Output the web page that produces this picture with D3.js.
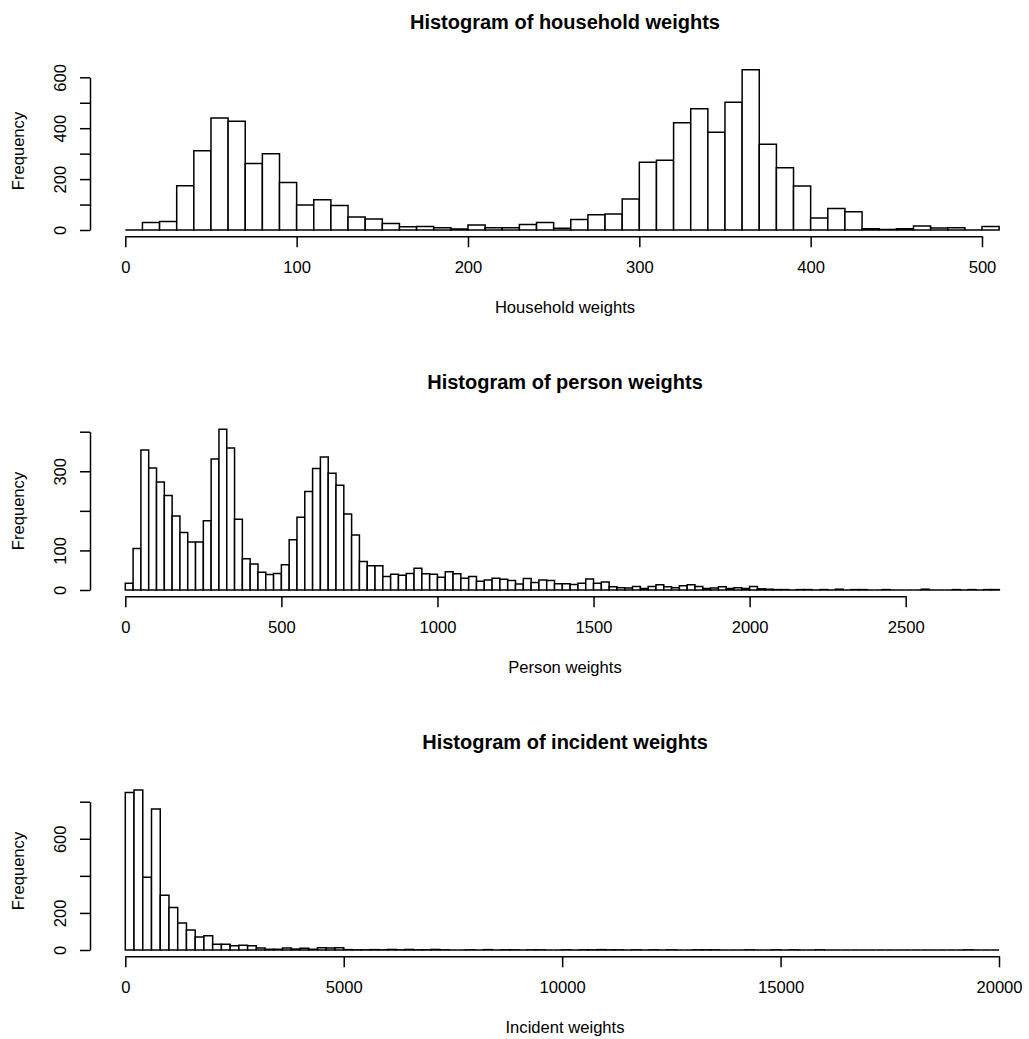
<!DOCTYPE html>
<html>
<head>
<meta charset="utf-8">
<script src="https://cdn.jsdelivr.net/npm/d3@7"></script>
<style>
  body { margin: 0; background: #fff; }
  svg { display: block; font-family: "Liberation Sans", Arial, Helvetica, sans-serif; }
</style>
</head>
<body>
<svg id="chart" width="1029" height="1039"></svg>
<script>
// bin counts
var householdBinWidth = 10;
var householdCounts = [0, 29, 33, 174, 311, 440, 427, 261, 300, 187,
  98, 119, 96, 51, 43, 26, 13, 14, 9, 4,
  20, 9, 9, 22, 29, 7, 41, 60, 63, 122,
  266, 274, 421, 476, 384, 502, 630, 337, 245, 173,
  47, 84, 72, 5, 2, 5, 16, 8, 9, 0,
  14];

var personBinWidth = 25;
var personCounts = [17, 105, 354, 308, 273, 239, 187, 145, 121, 121,
  175, 331, 406, 359, 179, 79, 66, 45, 39, 42,
  64, 127, 184, 249, 307, 336, 295, 265, 192, 139,
  72, 61, 61, 34, 40, 37, 42, 55, 41, 40,
  32, 46, 41, 30, 34, 22, 25, 30, 27, 24,
  15, 29, 19, 25, 24, 16, 16, 14, 17, 28,
  17, 20, 8, 6, 5, 9, 4, 9, 13, 8,
  6, 11, 13, 9, 4, 5, 8, 4, 6, 4,
  9, 3, 2, 1, 1, 0, 1, 1, 0, 1,
  0, 2, 0, 1, 1, 0, 0, 1, 0, 0,
  0, 0, 2, 0, 0, 0, 1, 0, 1, 0,
  1, 1];

var incidentBinWidth = 200;
var incidentCounts = [850, 863, 393, 760, 295, 229, 146, 108, 70, 77,
  31, 31, 23, 25, 23, 11, 4, 4, 11, 5,
  9, 4, 12, 11, 12, 2, 1, 1, 2, 1,
  3, 1, 3, 1, 1, 3, 1, 0, 0, 1,
  0, 2, 0, 1, 1, 0, 1, 1, 0, 0,
  1, 0, 1, 1, 2, 1, 1, 0, 1, 0,
  1, 0, 1, 0, 0, 1, 1, 1, 0, 0,
  0, 1, 0, 0, 1, 0, 1, 0, 0, 1,
  0, 0, 0, 0, 0, 0, 0, 0, 0, 0,
  0, 0, 0, 0, 0, 0, 1, 0, 0, 0];

var titles = ["Histogram of household weights", "Histogram of person weights", "Histogram of incident weights"];
var xLabels = ["Household weights", "Person weights", "Incident weights"];
var xTicks = [[0, 100, 200, 300, 400, 500], [0, 500, 1000, 1500, 2000, 2500], [0, 5000, 10000, 15000, 20000]];
var yTicks = [[0, 100, 200, 300, 400, 500, 600], [0, 100, 200, 300, 400], [0, 200, 400, 600, 800]];
var yLabelled = [[0, 200, 400, 600], [0, 100, 300], [0, 200, 600]];

var panels = [
  {counts: householdCounts, bw: householdBinWidth, xr: [125.3, 982], yr: [230, 77.3]},
  {counts: personCounts, bw: personBinWidth, xr: [125.3, 905.7], yr: [590, 431.7]},
  {counts: incidentCounts, bw: incidentBinWidth, xr: [125.3, 999], yr: [950, 801.7]}
];

var svg = d3.select("#chart");
var fs = 16.6;

panels.forEach(function(p, i) {
  var off = 360 * i;
  var xt = xTicks[i], yt = yTicks[i];
  var x = d3.scaleLinear().domain([xt[0], xt[xt.length - 1]]).range(p.xr);
  var y = d3.scaleLinear().domain([0, yt[yt.length - 1]]).range(p.yr);

  var bins = p.counts.map(function(c, k) { return {x0: k * p.bw, x1: (k + 1) * p.bw, n: c}; });

  var g = svg.append("g");

  // bars as paths so empty bins still show as a line
  g.selectAll("path.bar")
    .data(bins)
    .enter().append("path")
    .attr("class", "bar")
    .attr("d", function(d) {
      return "M" + x(d.x0) + "," + y(0) + "V" + y(d.n) + "H" + x(d.x1) + "V" + y(0) + "Z";
    })
    .attr("fill", "#fff")
    .attr("stroke", "#000")
    .attr("stroke-width", 1.5);

  // x axis
  var xa = g.append("g")
    .attr("transform", "translate(0," + (y(0) + 6.3) + ")")
    .call(d3.axisBottom(x).tickValues(xt).tickSize(11).tickSizeOuter(0).tickFormat(d3.format("d")));
  xa.select(".domain").attr("stroke-width", 1.5);
  xa.selectAll(".tick line").attr("stroke-width", 1.5);
  xa.selectAll(".tick text")
    .attr("y", 36.4).attr("dy", 0)
    .attr("font-size", fs).attr("font-family", "Liberation Sans, Arial, sans-serif").attr("fill", "#000");

  // y axis
  var ya = g.append("g")
    .attr("transform", "translate(90,0)")
    .call(d3.axisLeft(y).tickValues(yt).tickSize(10).tickSizeOuter(0)
      .tickFormat(function(d) { return yLabelled[i].indexOf(d) >= 0 ? d : ""; }));
  ya.select(".domain").attr("stroke-width", 1.5);
  ya.selectAll(".tick line").attr("stroke-width", 1.5);
  ya.selectAll(".tick text")
    .attr("transform", "rotate(-90)")
    .attr("x", 0).attr("y", -24).attr("dy", 0)
    .attr("text-anchor", "middle")
    .attr("font-size", fs).attr("font-family", "Liberation Sans, Arial, sans-serif").attr("fill", "#000");

  // titles and axis labels
  g.append("text")
    .attr("x", 565).attr("y", 29.3 + off)
    .attr("text-anchor", "middle")
    .attr("font-size", 20).attr("font-weight", "bold")
    .text(titles[i]);

  g.append("text")
    .attr("x", 565).attr("y", 313.3 + off)
    .attr("text-anchor", "middle")
    .attr("font-size", fs)
    .text(xLabels[i]);

  g.append("text")
    .attr("transform", "translate(24," + (151 + off) + ") rotate(-90)")
    .attr("text-anchor", "middle")
    .attr("font-size", fs)
    .text("Frequency");
});
</script>
</body>
</html>
